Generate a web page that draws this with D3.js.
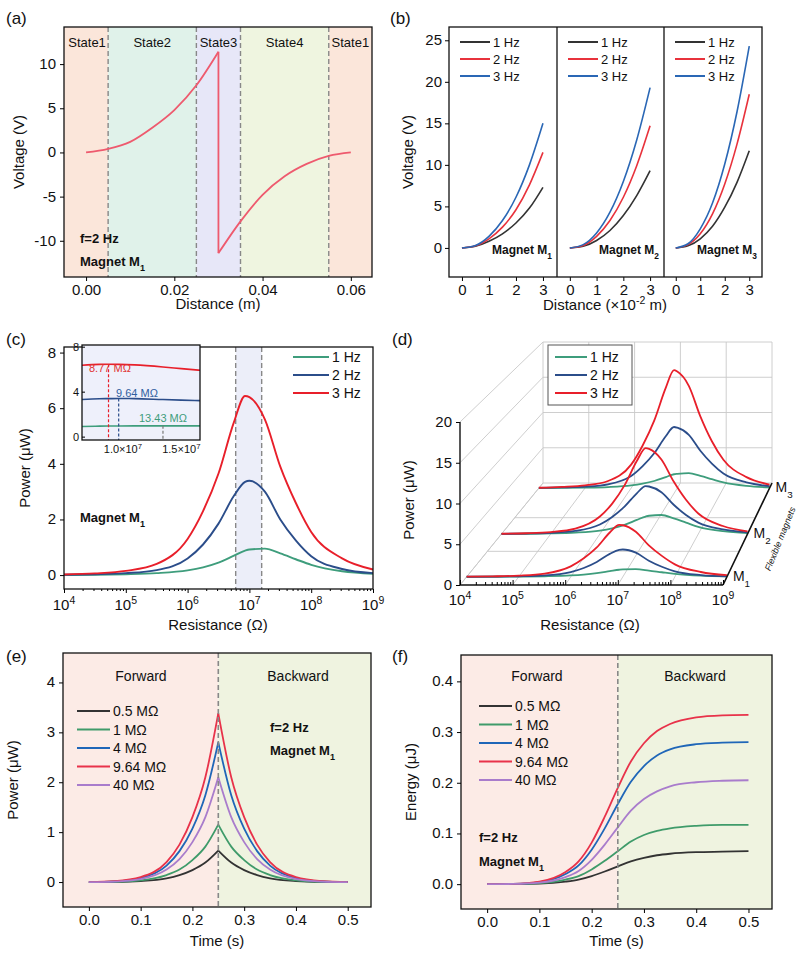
<!DOCTYPE html>
<html><head><meta charset="utf-8">
<script src="https://cdn.jsdelivr.net/npm/d3@7"></script>
<style>body{margin:0;background:#fff}svg{font-family:"Liberation Sans",Arial,sans-serif}</style>
</head><body><script>
// ---------- data ----------
// (a) voltage over one cycle, magnet M1 at 2 Hz
const aDist = [0,0.005,0.01,0.015,0.02,0.025,0.03,0.03,0.035,0.04,0.045,0.05,0.055,0.06];
const aVolt = [0,0.4,1.2,2.8,4.8,7.6,11.4,-11.4,-7.8,-4.8,-2.7,-1.3,-0.4,0];
const aStates = ["State1","State2","State3","State4","State1"];
const aBounds = [0.005,0.025,0.035,0.055];

// (b) voltage vs distance, three magnets
const bDist = [0,0.5,1,1.5,2,2.5,3];
const bFreqs = ["1 Hz","2 Hz","3 Hz"];
const bM1 = [[0,0.2,0.8,1.7,3.0,4.8,7.3],[0,0.25,1.1,2.5,4.6,7.6,11.5],[0,0.3,1.4,3.3,6.1,10.0,15.0]];
const bM2 = [[0,0.2,0.9,2.1,3.9,6.3,9.3],[0,0.3,1.4,3.3,6.1,9.9,14.7],[0,0.4,1.8,4.3,8.0,13.0,19.3]];
const bM3 = [[0,0.25,1.1,2.6,4.9,7.9,11.7],[0,0.4,1.7,4.1,7.7,12.5,18.5],[0,0.5,2.3,5.4,10.1,16.4,24.3]];

// (c)/(d) power vs log10 resistance
const logR = [4,4.5,5,5.5,6,6.25,6.5,6.75,6.93,7,7.25,7.5,7.75,8,8.5,9];
const pM1 = [[0.005,0.01,0.03,0.07,0.17,0.28,0.45,0.7,0.88,0.92,0.95,0.78,0.57,0.37,0.14,0.05],
             [0.01,0.03,0.07,0.18,0.6,1.1,1.85,2.85,3.35,3.39,3.0,2.0,1.25,0.68,0.22,0.07],
             [0.02,0.06,0.15,0.4,1.3,2.3,3.65,5.5,6.44,6.4,5.6,3.9,2.6,1.55,0.6,0.2]];
const pM2 = [[0.01,0.03,0.07,0.18,0.45,0.75,1.2,1.85,2.3,2.4,2.5,2.05,1.5,0.95,0.37,0.13],
             [0.02,0.06,0.15,0.4,1.25,2.25,3.6,5.35,6.3,6.25,5.5,3.85,2.5,1.5,0.6,0.2],
             [0.03,0.1,0.26,0.7,2.3,4.0,6.4,9.6,11.3,11.2,9.8,6.9,4.5,2.7,1.05,0.35]];
const pM3 = [[0.01,0.02,0.06,0.15,0.38,0.63,1.0,1.55,1.95,2.0,2.1,1.72,1.26,0.8,0.31,0.1],
             [0.03,0.09,0.2,0.53,1.7,3.1,4.9,7.3,8.6,8.5,7.5,5.25,3.45,2.05,0.8,0.27],
             [0.05,0.17,0.38,1.0,3.3,6.0,9.5,14.1,16.6,16.4,14.4,10.1,6.6,4.0,1.55,0.5]];
// inset of (c)
const insR = [6.5e6,8e6,8.77e6,9.64e6,11e6,13.43e6,15e6,16.6e6];
const insP = [[0.9,0.93,0.94,0.95,0.955,0.96,0.958,0.955],
              [3.3,3.37,3.38,3.39,3.38,3.3,3.25,3.2],
              [6.35,6.43,6.44,6.43,6.38,6.2,6.05,5.9]];
const optR = [13.43e6,9.64e6,8.77e6];
const optLbl = ["13.43 MΩ","9.64 MΩ","8.77 MΩ"];

// (e)/(f) time series, M1 at 2 Hz
const tTime = [0,0.05,0.1,0.15,0.175,0.2,0.225,0.25,0.275,0.3,0.325,0.35,0.4,0.45,0.5];
const loads = ["0.5 MΩ","1 MΩ","4 MΩ","9.64 MΩ","40 MΩ"];
const ePow = [[0,0.003,0.02,0.075,0.14,0.24,0.39,0.63,0.39,0.24,0.14,0.075,0.02,0.003,0],
              [0,0.006,0.035,0.14,0.25,0.44,0.71,1.15,0.71,0.44,0.25,0.14,0.035,0.006,0],
              [0,0.015,0.08,0.33,0.62,1.07,1.74,2.8,1.74,1.07,0.62,0.33,0.08,0.015,0],
              [0,0.02,0.1,0.4,0.75,1.3,2.1,3.38,2.1,1.3,0.75,0.4,0.1,0.02,0],
              [0,0.01,0.06,0.25,0.46,0.8,1.3,2.1,1.3,0.8,0.46,0.25,0.06,0.01,0]];
const fEn = [[0,0.0001,0.001,0.005,0.009,0.016,0.025,0.035,0.045,0.052,0.057,0.06,0.063,0.064,0.065],
             [0,0.0002,0.002,0.009,0.016,0.029,0.046,0.065,0.084,0.097,0.105,0.11,0.115,0.117,0.117],
             [0,0.0005,0.004,0.02,0.037,0.068,0.11,0.158,0.202,0.233,0.254,0.266,0.276,0.279,0.28],
             [0,0.0006,0.005,0.024,0.045,0.082,0.133,0.19,0.242,0.278,0.302,0.316,0.329,0.333,0.334],
             [0,0.0004,0.003,0.014,0.026,0.048,0.078,0.112,0.145,0.168,0.183,0.193,0.201,0.204,0.205]];

// ---------- helpers ----------
const svg = d3.select("body").append("svg").attr("width",800).attr("height",956);
const FS = 14;

function txt(x,y,s,o={}){
  const t = svg.append("text").attr("x",x).attr("y",y).attr("font-size",o.size||FS)
    .attr("text-anchor",o.anchor||"middle").attr("fill",o.fill||"#111")
    .attr("font-weight",o.bold?"bold":null);
  if(o.rot!=null) t.attr("transform",`rotate(${o.rot},${x},${y})`);
  if(o.italic) t.attr("font-style","italic");
  t.text(s);
  return t;
}
function sub(t,main,s){ // text with subscript
  t.text(main); t.append("tspan").attr("baseline-shift","sub").attr("font-size","70%").text(s); return t;
}
function pow10(t,e){ t.text("10"); t.append("tspan").attr("baseline-shift","super").attr("font-size","70%").text(e); return t; }

function box(x0,y0,x1,y1){
  svg.append("rect").attr("x",x0).attr("y",y0).attr("width",x1-x0).attr("height",y1-y0)
    .attr("fill","none").attr("stroke","#111").attr("stroke-width",1.3);
}
function xAxis(sc,y,vals,fmt,size){
  const g = svg.append("g").attr("transform",`translate(0,${y})`)
    .call(d3.axisBottom(sc).tickValues(vals).tickSize(4).tickPadding(3).tickFormat(fmt||(()=>"")));
  g.select(".domain").remove();
  g.selectAll("text").attr("font-size",size||FS).attr("font-family",null).attr("fill","#111");
  return g;
}
function yAxis(sc,x,vals){
  const g = svg.append("g").attr("transform",`translate(${x},0)`)
    .call(d3.axisLeft(sc).tickValues(vals).tickSize(4).tickFormat(()=>""));
  g.select(".domain").remove();
  return g;
}
function dash(x,y0,y1,c,w){
  svg.append("line").attr("x1",x).attr("x2",x).attr("y1",y0).attr("y2",y1)
    .attr("stroke",c||"#888").attr("stroke-width",w||1.4).attr("stroke-dasharray","5,3");
}
function legend(x,y,dy,names,colors,len,size){
  names.forEach((n,i)=>{
    svg.append("line").attr("x1",x).attr("x2",x+len).attr("y1",y+i*dy).attr("y2",y+i*dy)
      .attr("stroke",colors[i]).attr("stroke-width",2);
    txt(x+len+3,y+i*dy+5,n,{anchor:"start",size:size||13});
  });
}
function path(xs,ys,sx,sy,c,w,curve){
  svg.append("path").datum(xs.map((v,i)=>[v,ys[i]])).attr("fill","none").attr("stroke",c)
    .attr("stroke-width",w||1.6)
    .attr("d",d3.line().x(d=>sx(d[0])).y(d=>sy(d[1])).curve(curve||d3.curveMonotoneX));
}

// panel labels
[["(a)",6,24],["(b)",390,24],["(c)",6,345],["(d)",392,345],["(e)",6,662],["(f)",392,662]]
  .forEach(l=>txt(l[1],l[2],l[0],{anchor:"start",size:17}));

// ---------- (a) ----------
{
  const x = d3.scaleLinear().domain([-0.005,0.0648]).range([64,372]);
  const y = d3.scaleLinear().domain([-14.1,14.2]).range([277,27]);
  const edges = [-0.005,...aBounds,0.0648];
  const fills = ["#fbe6da","#e0f2ea","#e7e7f8","#eff5e0","#fbe6da"];
  fills.forEach((f,i)=>svg.append("rect").attr("x",x(edges[i])).attr("y",27)
    .attr("width",x(edges[i+1])-x(edges[i])).attr("height",250).attr("fill",f));
  aBounds.forEach(b=>dash(x(b),27,277));
  aStates.forEach((s,i)=>txt((x(edges[i])+x(edges[i+1]))/2+(i==0?1:0),47,s,{size:13}));
  path(aDist.slice(0,7),aVolt.slice(0,7),x,y,"#ee5a6e",1.8);
  path(aDist.slice(6,8),aVolt.slice(6,8),x,y,"#ee5a6e",1.8,d3.curveLinear);
  path(aDist.slice(7),aVolt.slice(7),x,y,"#ee5a6e",1.8);
  box(64,27,372,277);
  xAxis(x,277,[0,0.02,0.04,0.06],d3.format(".2f"),15);
  yAxis(y,64,[-10,-5,0,5,10]);
  [-10,-5,0,5,10].forEach(v=>txt(56,y(v)+5,v,{anchor:"end",size:15}));
  txt(218,309,"Distance (m)",{size:15});
  txt(24,152,"Voltage (V)",{size:15,rot:-90});
  txt(80,243,"f=2 Hz",{anchor:"start",size:13,bold:true});
  sub(txt(80,266,"",{anchor:"start",size:13,bold:true}),"Magnet M","1");
}

// ---------- (b) ----------
{
  const y = d3.scaleLinear().domain([-3.5,26.6]).range([277,27]);
  const cols = ["#333333","#e8323c","#2a67b5"];
  const lefts = [449,557,664], rights=[557,664,762];
  [bM1,bM2,bM3].forEach((M,k)=>{
    const x = d3.scaleLinear().domain([-0.48,3.52]).range([lefts[k],rights[k]]);
    M.forEach((s,i)=>path(bDist,s,x,y,cols[i],1.6));
    xAxis(x,277,[0,1,2,3],d3.format("d"),15);
    legend(lefts[k]+11,42,17,bFreqs,cols,30,13);
    sub(txt(rights[k]-5,254,"",{anchor:"end",size:12,bold:true}),"Magnet M",String(k+1));
  });
  box(449,27,762,277);
  svg.append("line").attr("x1",557).attr("x2",557).attr("y1",27).attr("y2",277).attr("stroke","#111").attr("stroke-width",1.3);
  svg.append("line").attr("x1",664).attr("x2",664).attr("y1",27).attr("y2",277).attr("stroke","#111").attr("stroke-width",1.3);
  yAxis(y,449,[0,5,10,15,20,25]);
  [0,5,10,15,20,25].forEach(v=>txt(442,y(v)+5,v,{anchor:"end",size:15}));
  const t = txt(605,310,"Distance (×10",{size:15});
  t.append("tspan").attr("baseline-shift","super").attr("font-size","70%").text("-2");
  t.append("tspan").text(" m)");
  txt(413,152,"Voltage (V)",{size:15,rot:-90});
}

// ---------- (c) ----------
const pCols = ["#3e9d7c","#2b4d8a","#e81f2a"];
{
  const x = d3.scaleLog().domain([1e4,1e9]).range([64,373]);
  const y = d3.scaleLinear().domain([-0.5,8.2]).range([589,347]);
  svg.append("rect").attr("x",x(6e6)).attr("y",347).attr("width",x(1.58e7)-x(6e6)).attr("height",242).attr("fill","#eceef9");
  dash(x(6e6),347,589); dash(x(1.58e7),347,589);
  pM1.forEach((s,i)=>path(logR.map(v=>Math.pow(10,v)),s,x,y,pCols[i],1.9));
  box(64,347,373,589);
  const minors=[]; for(let e=4;e<9;e++) for(let m=2;m<10;m++) minors.push(m*Math.pow(10,e));
  svg.append("g").attr("transform","translate(0,589)").call(d3.axisBottom(x).tickValues(minors).tickSize(2).tickFormat(()=>"")).select(".domain").remove();
  xAxis(x,589,[1e4,1e5,1e6,1e7,1e8,1e9]);
  [4,5,6,7,8,9].forEach(e=>pow10(txt(x(Math.pow(10,e)),610,"",{size:15}),e));
  yAxis(y,64,[0,2,4,6,8]);
  [0,2,4,6,8].forEach(v=>txt(56,y(v)+5,v,{anchor:"end",size:15}));
  txt(218,630,"Resistance (Ω)",{size:15});
  txt(30,468,"Power (μW)",{size:15,rot:-90});
  legend(293,357,18,["1 Hz","2 Hz","3 Hz"],pCols,36,14);
  sub(txt(80,522,"",{anchor:"start",size:13,bold:true}),"Magnet M","1");
  // inset
  const ix = d3.scaleLinear().domain([6.5e6,1.66e7]).range([82,200]);
  const iy = d3.scaleLinear().domain([-0.3,8.15]).range([440,345]);
  svg.append("rect").attr("x",82).attr("y",345).attr("width",118).attr("height",95).attr("fill","#eef0fb");
  insP.forEach((s,i)=>{
    path(insR,s,ix,iy,pCols[i],1.6);
    const r=optR[i], p=s[insR.indexOf(r)];
    svg.append("line").attr("x1",ix(r)).attr("x2",ix(r)).attr("y1",iy(p)).attr("y2",440)
      .attr("stroke",i==0?"#777":pCols[i]).attr("stroke-width",1.2).attr("stroke-dasharray","3,2");
  });
  txt(89,372,optLbl[2],{anchor:"start",size:11,fill:"#e03030"});
  txt(116,397,optLbl[1],{anchor:"start",size:11,fill:"#3060a0"});
  txt(139,422,optLbl[0],{anchor:"start",size:11,fill:"#3e9d7c"});
  box(82,345,200,440);
  const ia = yAxis(iy,82,[0,4,8]); ia.selectAll("line").attr("x2",3);
  [0,4,8].forEach(v=>txt(79,iy(v)+4,v,{anchor:"end",size:11}));
  [[1e7,"1.0×10"],[1.5e7,"1.5×10"]].forEach(d=>{
    const t=txt(ix(d[0]),453,d[1],{size:11});
    t.append("tspan").attr("baseline-shift","super").attr("font-size","70%").text("7");
  });
}

// ---------- (d) ----------
{
  // depth t: 0 front plane, 1 back wall
  const xAt = t => d3.scaleLinear().domain([4,9]).range([460+83*t,723+49*t]);
  const yAt = t => d3.scaleLinear().domain([0,20]).range([585-102*t,585-102*t-163*(1-0.135*t)]);
  const grid = (x1,y1,x2,y2)=>svg.append("line").attr("x1",x1).attr("y1",y1).attr("x2",x2).attr("y2",y2)
    .attr("stroke","#c8c8c8").attr("stroke-width",0.9);
  const F=[xAt(0),yAt(0)], B=[xAt(1),yAt(1)];
  [4,5,6,7,8,9].forEach(e=>grid(B[0](e),B[1](0),B[0](e),B[1](20)));
  [0,5,10,15,20].forEach(p=>grid(B[0](4),B[1](p),B[0](9),B[1](p)));
  [0,5,10,15,20].forEach(p=>grid(F[0](4),F[1](p),B[0](4),B[1](p)));
  [4,5,6,7,8,9].forEach(e=>grid(F[0](e),F[1](0),B[0](e),B[1](0)));
  [0.33,0.66].forEach(t=>grid(xAt(t)(4),yAt(t)(0),xAt(t)(9),yAt(t)(0)));
  const depth=[0.08,0.5,0.95];
  [pM3,pM2,pM1].forEach((M,j)=>{
    const t=depth[2-j], sx=xAt(t), sy=yAt(t);
    M.forEach((s,i)=>path(logR,s,sx,sy,pCols[i],1.8));
  });
  svg.append("line").attr("x1",F[0](4)).attr("x2",F[0](9)).attr("y1",585).attr("y2",585).attr("stroke","#111").attr("stroke-width",1.4);
  svg.append("line").attr("x1",460).attr("x2",460).attr("y1",585).attr("y2",F[1](20)).attr("stroke","#111").attr("stroke-width",1.4);
  svg.append("line").attr("x1",F[0](9)).attr("y1",585).attr("x2",B[0](9)).attr("y2",B[1](0)).attr("stroke","#111").attr("stroke-width",1.6);
  const minors=[]; for(let e=4;e<9;e++) for(let m=2;m<10;m++) minors.push(e+Math.log10(m));
  svg.append("g").attr("transform","translate(0,585)").call(d3.axisTop(F[0]).tickValues(minors).tickSize(3).tickFormat(()=>"")).select(".domain").remove();
  svg.append("g").attr("transform","translate(0,585)").call(d3.axisTop(F[0]).tickValues([4,5,6,7,8,9]).tickSize(5).tickFormat(()=>"")).select(".domain").remove();
  [4,5,6,7,8,9].forEach(e=>pow10(txt(F[0](e),605,"",{size:15}),e));
  yAxis(F[1],460,[0,5,10,15,20]);
  [0,5,10,15,20].forEach(v=>txt(452,F[1](v)+5,v,{anchor:"end",size:15}));
  txt(590,630,"Resistance (Ω)",{size:15});
  txt(414,500,"Power (μW)",{size:15,rot:-90});
  depth.forEach((t,i)=>sub(txt(xAt(t)(9)+6,yAt(t)(0)+4,"",{anchor:"start",size:14}),"M",String(i+1)));
  txt(783,540,"Flexible magnets",{size:9,italic:true,rot:-68});
  svg.append("rect").attr("x",548).attr("y",345).attr("width",84).attr("height",60).attr("fill","#fff").attr("stroke","#555");
  legend(555,357,18,["1 Hz","2 Hz","3 Hz"],pCols,32,14);
}

// ---------- (e) and (f) ----------
const tCols = ["#333333","#3f9b6a","#1f66b8","#e8324a","#a97ccc"];
function timePanel(x0,x1,y0,y1,yd,yticks,yfmt,data,title,cusp){
  const x = d3.scaleLinear().domain([-0.05,0.545]).range([x0,x1]);
  const y = d3.scaleLinear().domain(yd).range([y1,y0]);
  svg.append("rect").attr("x",x0).attr("y",y0).attr("width",x(0.25)-x0).attr("height",y1-y0).attr("fill","#fcebe6");
  svg.append("rect").attr("x",x(0.25)).attr("y",y0).attr("width",x1-x(0.25)).attr("height",y1-y0).attr("fill","#eff3e0");
  data.forEach((s,i)=>{
    if(cusp){
      path(tTime.slice(0,8),s.slice(0,8),x,y,tCols[i],1.8);
      path(tTime.slice(7),s.slice(7),x,y,tCols[i],1.8);
    } else path(tTime,s,x,y,tCols[i],1.8);
  });
  dash(x(0.25),y0,y1,"#888",1.6);
  box(x0,y0,x1,y1);
  xAxis(x,y1,[0,0.1,0.2,0.3,0.4,0.5],d3.format(".1f"),15);
  yAxis(y,x0,yticks);
  yticks.forEach(v=>txt(x0-8,y(v)+5,yfmt(v),{anchor:"end",size:15}));
  txt((x0+x1)/2,946,"Time (s)",{size:15});
  txt(x0-45,(y0+y1)/2,title,{size:15,rot:-90});
  return x;
}
{
  timePanel(63,371,653,907,[-0.5,4.59],[0,1,2,3,4],d3.format("d"),ePow,"Power (μW)",true);
  txt(141,681,"Forward",{size:14}); txt(298,681,"Backward",{size:14});
  legend(77,711,18.5,loads,tCols,33,14);
  txt(270,732,"f=2 Hz",{anchor:"start",size:13,bold:true});
  sub(txt(270,755,"",{anchor:"start",size:13,bold:true}),"Magnet M","1");
}
{
  timePanel(461,772,655,909,[-0.049,0.452],[0,0.1,0.2,0.3,0.4],d3.format(".1f"),fEn,"Energy (μJ)",false);
  txt(537,681,"Forward",{size:14}); txt(695,681,"Backward",{size:14});
  legend(479,706,18.5,loads,tCols,33,14);
  txt(479,842,"f=2 Hz",{anchor:"start",size:13,bold:true});
  sub(txt(479,866,"",{anchor:"start",size:13,bold:true}),"Magnet M","1");
}
</script></body></html>
